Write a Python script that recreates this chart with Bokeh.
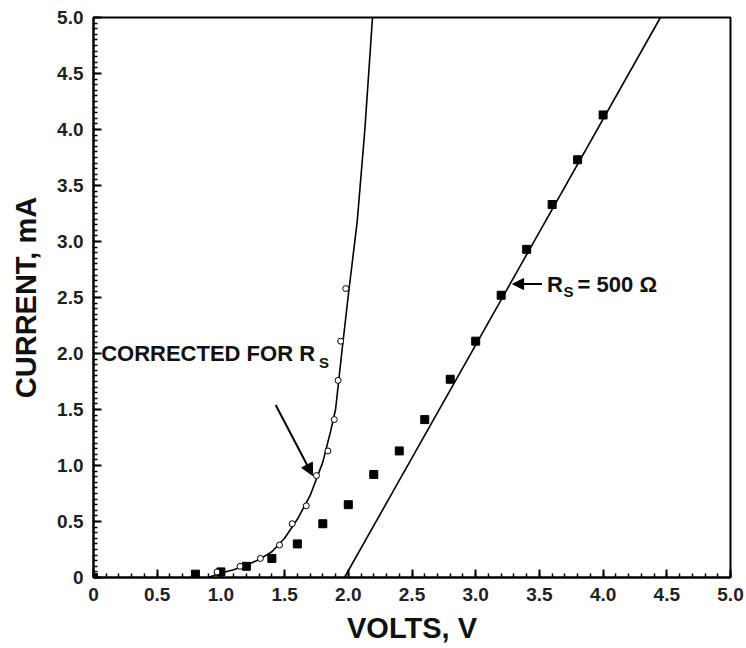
from bokeh.plotting import figure
from bokeh.models import Range1d, FixedTicker, Arrow, NormalHead
from bokeh.core.properties import value
from bokeh.embed import file_html
from bokeh.resources import INLINE

# Measured diode I-V points (volts, mA)
measured_v = [0.0, 0.8, 1.0, 1.2, 1.4, 1.6, 1.8, 2.0, 2.2, 2.4, 2.6, 2.8, 3.0, 3.2, 3.4, 3.6, 3.8, 4.0]
measured_i = [0.0, 0.03, 0.05, 0.10, 0.17, 0.30, 0.48, 0.65, 0.92, 1.13, 1.41, 1.77, 2.11, 2.52, 2.93, 3.33, 3.73, 4.13]

# Same points after correcting for series resistance
corrected_v = [0.97, 1.15, 1.31, 1.46, 1.56, 1.67, 1.75, 1.84, 1.89, 1.92, 1.94, 1.98]
corrected_i = [0.05, 0.10, 0.17, 0.29, 0.48, 0.64, 0.91, 1.13, 1.41, 1.76, 2.11, 2.58]

# Fitted diode curve through the corrected points
curve_v = [0.9, 1.0, 1.1, 1.2, 1.3, 1.4, 1.5, 1.6, 1.7, 1.8, 1.86, 1.9, 1.95, 2.0, 2.07, 2.13, 2.19]
curve_i = [0.0, 0.04, 0.07, 0.11, 0.16, 0.23, 0.35, 0.52, 0.73, 1.03, 1.30, 1.50, 2.02, 2.52, 3.18, 4.0, 5.0]

# Straight line for the resistance-limited region (500 ohm)
rs_v = [1.97, 4.45]
rs_i = [0.0, 5.0]

x_ticks = [0.0, 0.5, 1.0, 1.5, 2.0, 2.5, 3.0, 3.5, 4.0, 4.5, 5.0]
y_ticks = [0.0, 0.5, 1.0, 1.5, 2.0, 2.5, 3.0, 3.5, 4.0, 4.5, 5.0]
tick_labels = ["0", "0.5", "1.0", "1.5", "2.0", "2.5", "3.0", "3.5", "4.0", "4.5", "5.0"]

FONT = "Liberation Sans"

p = figure(width=746, height=648, output_backend="svg", toolbar_location=None,
           x_range=Range1d(0, 5), y_range=Range1d(0, 5),
           min_border_left=93, min_border_right=16, min_border_top=17, min_border_bottom=71)

p.grid.visible = False
p.background_fill_color = "white"
p.border_fill_color = "white"
p.outline_line_color = "black"
p.outline_line_width = 2

x_minor = [round(i * 0.1, 2) for i in range(51)]
y_minor = [round(i * 0.05, 3) for i in range(101)]
p.xaxis.ticker = FixedTicker(ticks=x_ticks, minor_ticks=x_minor)
p.yaxis.ticker = FixedTicker(ticks=y_ticks, minor_ticks=y_minor)
p.xaxis.major_label_overrides = {t: s for t, s in zip(x_ticks, tick_labels)}
p.yaxis.major_label_overrides = {t: s for t, s in zip(y_ticks, tick_labels)}

for ax in (p.xaxis, p.yaxis):
    ax.axis_line_color = "black"
    ax.axis_line_width = 2
    ax.major_tick_in = 8
    ax.major_tick_out = 0
    ax.minor_tick_in = 4
    ax.minor_tick_out = 0
    ax.major_tick_line_width = 2
    ax.minor_tick_line_width = 1.5
    ax.major_tick_line_color = "black"
    ax.minor_tick_line_color = "black"
    ax.major_label_text_font = FONT
    ax.major_label_text_font_style = "bold"
    ax.major_label_text_font_size = "19px"
    ax.major_label_text_color = "#222222"
    ax.axis_label_text_font = FONT
    ax.axis_label_text_font_style = "bold"
    ax.axis_label_text_font_size = "29px"
    ax.axis_label_text_color = "#111111"

p.xaxis.axis_label = "VOLTS, V"
p.yaxis.axis_label = "CURRENT, mA"
p.xaxis.major_label_standoff = 10
p.yaxis.major_label_standoff = 10
p.xaxis.axis_label_standoff = 8
p.yaxis.axis_label_standoff = 12

# Curves
p.line(curve_v, curve_i, line_color="black", line_width=1.6)
p.line(rs_v, rs_i, line_color="black", line_width=1.6)

# Data markers
p.scatter(measured_v, measured_i, marker="square", size=8, fill_color="black", line_color="black")
p.scatter(corrected_v, corrected_i, marker="circle", size=6, fill_color="white", line_color="black", line_width=1)

# Annotations
p.text(x=[0.06], y=[2.0], text=["CORRECTED FOR R"], text_font=value(FONT), text_font_style="bold",
       text_font_size="22px", text_baseline="middle", text_align="left", text_color="#111111")
p.text(x=[1.77], y=[1.92], text=["S"], text_font=value(FONT), text_font_style="bold",
       text_font_size="15px", text_baseline="middle", text_align="left", text_color="#111111")

p.text(x=[3.56], y=[2.62], text=["R"], text_font=value(FONT), text_font_style="bold",
       text_font_size="22px", text_baseline="middle", text_align="left", text_color="#111111")
p.text(x=[3.69], y=[2.55], text=["S"], text_font=value(FONT), text_font_style="bold",
       text_font_size="15px", text_baseline="middle", text_align="left", text_color="#111111")
p.text(x=[3.8], y=[2.62], text=["= 500 \u03a9"], text_font=value(FONT), text_font_style="bold",
       text_font_size="22px", text_baseline="middle", text_align="left", text_color="#111111")

p.add_layout(Arrow(end=NormalHead(size=12, fill_color="black", line_color="black"),
                   x_start=1.43, y_start=1.54, x_end=1.72, y_end=0.91,
                   line_color="black", line_width=2))
p.add_layout(Arrow(end=NormalHead(size=11, fill_color="black", line_color="black"),
                   x_start=3.52, y_start=2.62, x_end=3.29, y_end=2.62,
                   line_color="black", line_width=2))

open("out.html", "w").write(file_html(p, INLINE))
